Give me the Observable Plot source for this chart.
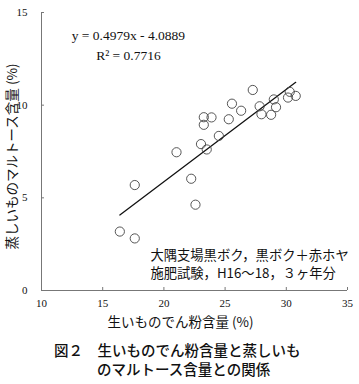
<!DOCTYPE html>
<html>
<head>
<meta charset="utf-8">
<script src="https://cdn.jsdelivr.net/npm/d3@7"></script>
<script src="https://cdn.jsdelivr.net/npm/@observablehq/plot@0.6"></script>
<style>
  body { margin: 0; background: #fff; }
  #chart { width: 359px; }
  .cap { font-family: "Noto Sans CJK JP", sans-serif; font-size: 14.5px; font-weight: 500; color: #111; line-height: 19px; white-space: pre; }
</style>
</head>
<body>
<div id="chart"></div>
<script>
// --- data ---
const starch = [16.40, 17.62, 17.62, 21.03, 22.23, 22.58, 23.03, 23.50, 23.26, 23.26, 23.89, 24.49,
                25.30, 25.56, 26.31, 27.26, 27.82, 27.97, 28.76, 28.98, 29.16, 30.14, 30.28, 30.77];
const maltose = [3.18, 2.81, 5.69, 7.46, 6.03, 4.63, 7.90, 7.61, 9.35, 8.94, 9.34, 8.34,
                 9.24, 10.08, 9.70, 10.82, 9.94, 9.51, 9.48, 10.31, 9.89, 10.41, 10.72, 10.50];
const slope = 0.4979;
const intercept = -4.0889;
const xTicks = [10, 15, 20, 25, 30, 35];
const yTicks = [0, 5, 10, 15];
const xLabel = "生いものでん粉含量 (%)";
const yLabel = "蒸しいものマルトース含量 (%)";
const eqText = ["y = 0.4979x - 4.0889", "R² = 0.7716"];
const noteText = ["大隅支場黒ボク，黒ボク＋赤ホヤ\n施肥試験，H16～18，３ヶ年分"];
const captionLines = ["図２　生いものでん粉含量と蒸しいも", "のマルトース含量との関係"];

const points = starch.map((x, i) => ({x, y: maltose[i]}));
const lineEnds = [d3.min(starch), d3.max(starch)];

const serif = "'Liberation Serif', 'DejaVu Serif', serif";
const cjk = "'Noto Sans CJK JP', sans-serif";

const chart = Plot.plot({
  width: 359,
  height: 332,
  marginLeft: 41,
  marginRight: 12,
  marginTop: 12,
  marginBottom: 42,
  style: { fontFamily: serif, fontSize: "11px", color: "#111", background: "#fff" },
  x: { domain: [10, 35] },
  y: { domain: [0, 15] },
  marks: [
    Plot.ruleX([10], { stroke: "#777", strokeWidth: 1 }),
    Plot.ruleY([0], { stroke: "#777", strokeWidth: 1 }),
    Plot.axisX({ ticks: xTicks, tickSize: -3, tickPadding: 12, stroke: "#777", label: null, fontFamily: serif, fontSize: 11 }),
    Plot.axisY({ ticks: yTicks, tickSize: -3, tickPadding: 17, stroke: "#777", label: null, fontFamily: serif, fontSize: 11 }),
    Plot.line(lineEnds, { x: d => d, y: d => slope * d + intercept, stroke: "#111", strokeWidth: 1.3 }),
    Plot.dot(points, { x: "x", y: "y", r: 4.6, stroke: "#444", strokeWidth: 0.9, fill: "none" }),
    Plot.text([eqText[0]], { x: 17.1, y: 13.76, text: d => d, textAnchor: "middle", fontFamily: serif, fontSize: 13.5, letterSpacing: "1.5px", fill: "#111" }),
    Plot.text([eqText[1]], { x: 17.1, y: 12.68, text: d => d, textAnchor: "middle", fontFamily: serif, fontSize: 13.5, letterSpacing: "1.5px", fill: "#111" }),
    Plot.text(noteText, { x: 18.9, y: 1.45, text: d => d, textAnchor: "start", fontFamily: cjk, fontSize: 13.3, lineHeight: 1.36, fill: "#111" }),
    Plot.text([xLabel], { frameAnchor: "bottom", textAnchor: "middle", lineAnchor: "middle", dy: 32, dx: -14, text: d => d, fontFamily: cjk, fontSize: 13.5, fill: "#111" }),
    Plot.text([yLabel], { frameAnchor: "left", textAnchor: "middle", lineAnchor: "middle", rotate: -90, dx: -29, dy: 5, text: d => d, fontFamily: cjk, fontSize: 13.5, fill: "#111" })
  ]
});
document.getElementById("chart").appendChild(chart);

const cap = document.createElement("div");
cap.style.marginTop = "8px";
const l1 = document.createElement("div");
l1.className = "cap"; l1.style.paddingLeft = "54px"; l1.textContent = captionLines[0];
const l2 = document.createElement("div");
l2.className = "cap"; l2.style.paddingLeft = "97px"; l2.textContent = captionLines[1];
cap.appendChild(l1); cap.appendChild(l2);
document.getElementById("chart").appendChild(cap);
</script>
</body>
</html>
